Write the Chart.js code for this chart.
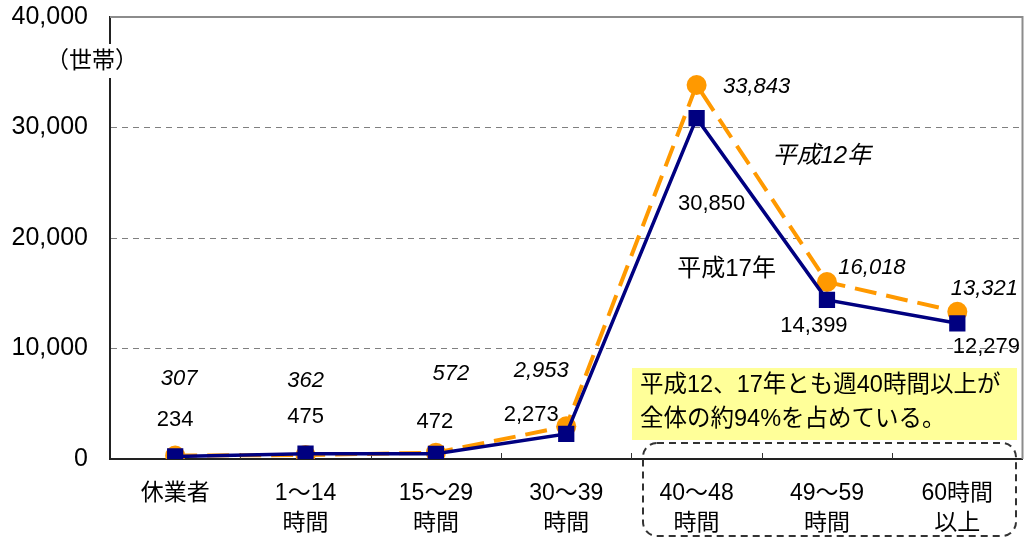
<!DOCTYPE html>
<html>
<head>
<meta charset="utf-8">
<title>就業時間別世帯数</title>
<script src="https://cdn.jsdelivr.net/npm/chart.js"></script>
<style>
  html, body { margin: 0; padding: 0; background: #fff; }
</style>
</head>
<body>
<canvas id="chart" width="1034" height="538"></canvas>
<script>
// --- data ---
const categories = ['休業者', ['1～14', '時間'], ['15～29', '時間'], ['30～39', '時間'],
                    ['40～48', '時間'], ['49～59', '時間'], ['60時間', '以上']];
const h12 = [307, 362, 572, 2953, 33843, 16018, 13321];
const h17 = [234, 475, 472, 2273, 30850, 14399, 12279];
const seriesNames = ['平成12年', '平成17年'];
const yTicks = [0, 10000, 20000, 30000, 40000];
const unitLabel = '（世帯）';
const noteLines = ['平成12、17年とも週40時間以上が', '全体の約94%を占めている。'];

const FONT = '"Liberation Sans", "Noto Sans CJK JP", sans-serif';
const ORANGE = '#ff9900';
const NAVY = '#000080';

// label offsets from each point (px)
const off12 = [[4, -77], [0, -74], [15, -79], [-25, -55], [60, 2], [45, -14], [27, -23]];
const off17 = [[0, -36], [0, -37], [-1, -32], [-35, -19], [15, 86], [-13, 26], [29, 24]];

const fmt = v => v.toLocaleString('en-US');

const decor = {
  id: 'decor',
  beforeDatasetsDraw(chart) {
    const { ctx, chartArea: a } = chart;
    ctx.save();
    // frame top + right
    ctx.strokeStyle = '#8c8c8c';
    ctx.lineWidth = 2;
    ctx.beginPath();
    ctx.moveTo(a.left, a.top);
    ctx.lineTo(a.right, a.top);
    ctx.lineTo(a.right, a.bottom);
    ctx.stroke();
    // small inward ticks at category boundaries
    const step = (a.right - a.left) / categories.length;
    ctx.strokeStyle = '#333';
    ctx.lineWidth = 1;
    for (let i = 1; i < categories.length; i++) {
      const px = Math.round(a.left + i * step) + 0.5;
      ctx.beginPath();
      ctx.moveTo(px, a.bottom);
      ctx.lineTo(px, a.bottom - 6);
      ctx.stroke();
    }
    ctx.restore();
  },
  afterDatasetsDraw(chart) {
    const { ctx, scales: { x, y } } = chart;
    ctx.save();
    ctx.textAlign = 'center';
    ctx.textBaseline = 'middle';
    ctx.fillStyle = '#000';
    const m12 = chart.getDatasetMeta(0).data;
    const m17 = chart.getDatasetMeta(1).data;
    ctx.font = 'italic 22px ' + FONT;
    h12.forEach((v, i) => ctx.fillText(fmt(v), m12[i].x + off12[i][0], m12[i].y + off12[i][1]));
    ctx.font = '22px ' + FONT;
    h17.forEach((v, i) => ctx.fillText(fmt(v), m17[i].x + off17[i][0], m17[i].y + off17[i][1]));
    // series names
    ctx.font = 'italic 24px ' + FONT;
    ctx.fillText(seriesNames[0], x.getPixelForValue(4.96), y.getPixelForValue(27400));
    ctx.font = '24px ' + FONT;
    ctx.fillText(seriesNames[1], x.getPixelForValue(4.23), y.getPixelForValue(17200));
    ctx.restore();
  },
  afterDraw(chart) {
    const { ctx } = chart;
    ctx.save();
    // unit label over the y axis
    ctx.fillStyle = '#fff';
    ctx.fillRect(56, 44, 72, 34);
    ctx.fillStyle = '#000';
    ctx.font = '23px ' + FONT;
    ctx.textAlign = 'center';
    ctx.textBaseline = 'middle';
    ctx.fillText(unitLabel, 92, 62);
    // yellow note
    ctx.fillStyle = '#ffff99';
    ctx.fillRect(632, 368, 385, 72);
    ctx.fillStyle = '#000';
    ctx.font = '23.5px ' + FONT;
    ctx.textAlign = 'left';
    ctx.fillText(noteLines[0], 640, 386);
    ctx.fillText(noteLines[1], 640, 420);
    // dashed rounded frame round the 40+ hours group
    ctx.strokeStyle = '#333';
    ctx.lineWidth = 2;
    ctx.setLineDash([7, 5]);
    ctx.beginPath();
    ctx.roundRect(643, 443, 373, 93, 14);
    ctx.stroke();
    ctx.restore();
  }
};

new Chart(document.getElementById('chart'), {
  type: 'line',
  data: {
    labels: categories,
    datasets: [
      {
        label: seriesNames[0],
        data: h12,
        borderColor: ORANGE,
        backgroundColor: ORANGE,
        borderWidth: 4,
        borderDash: [22, 10],
        pointStyle: 'circle',
        pointRadius: 10,
        pointBorderWidth: 0,
        tension: 0,
        order: 2
      },
      {
        label: seriesNames[1],
        data: h17,
        borderColor: NAVY,
        backgroundColor: NAVY,
        borderWidth: 3.5,
        pointStyle: 'rect',
        pointRadius: 11.5,
        pointBorderWidth: 0,
        tension: 0,
        order: 1
      }
    ]
  },
  options: {
    responsive: false,
    animation: false,
    layout: { padding: { top: 17, right: 6, left: 0, bottom: 0 } },
    plugins: { legend: { display: false }, tooltip: { enabled: false } },
    scales: {
      x: {
        offset: true,
        grid: { display: false },
        border: { display: true, color: '#222', width: 2 },
        ticks: {
          color: '#000',
          font: { family: FONT, size: 23, lineHeight: 1.3 },
          padding: 12,
          maxRotation: 0,
          autoSkip: false
        },
        afterFit(s) { s.height = 79; }
      },
      y: {
        min: 0,
        max: 40000,
        afterBuildTicks(s) { s.ticks = yTicks.map(v => ({ value: v })); },
        grid: {
          color: c => (c.tick && c.tick.value === 0) ? 'rgba(0,0,0,0)' : '#808080',
          lineWidth: 1,
          drawTicks: false
        },
        border: { display: true, color: '#222', width: 2, dash: [6, 5] },
        ticks: {
          color: '#000',
          font: { family: FONT, size: 25 },
          padding: 22,
          callback: v => fmt(v)
        },
        afterFit(s) { s.width = 110; s.paddingTop = 0; s.paddingBottom = 0; }
      }
    }
  },
  plugins: [decor]
});
</script>
</body>
</html>
